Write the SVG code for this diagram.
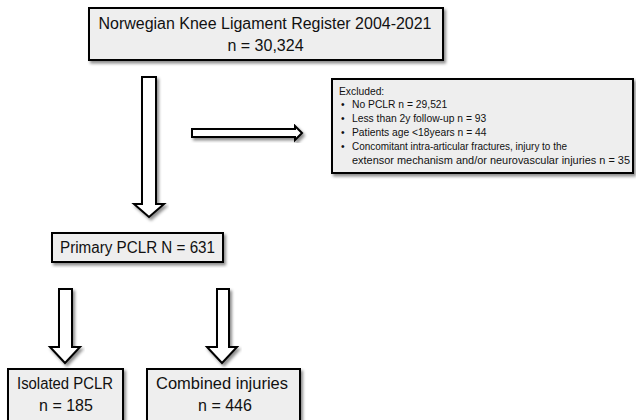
<svg xmlns="http://www.w3.org/2000/svg" width="636" height="420" viewBox="0 0 636 420">
<defs>
<filter id="sh" x="-10%" y="-10%" width="125%" height="130%">
<feDropShadow dx="2" dy="2.5" stdDeviation="1.5" flood-color="#000" flood-opacity="0.45"/>
</filter>
<style>
.box{fill:#eeeeee;stroke:#000;stroke-width:2;filter:url(#sh)}
.arr{fill:#fff;stroke:#000;stroke-width:2;stroke-linejoin:miter;filter:url(#sh)}
.t{font-family:"Liberation Sans",Arial,sans-serif;font-size:16px;fill:#111;text-anchor:middle}
.s{font-family:"Liberation Sans",Arial,sans-serif;font-size:10.3px;fill:#111}
</style>
</defs>
<rect width="636" height="420" fill="#fff"/>
<g id="connectors">
<polygon class="arr" points="142,77 156,77 156,204 164,204 149,217 134,204 142,204"/>
<polygon class="arr" points="192,129 295,129 295,126 302,133 295,140 295,137 192,137"/>
<polygon class="arr" points="59,289 72,289 72,347 80,347 65,363 50,347 59,347"/>
<polygon class="arr" points="217,289 229,289 229,347 237,347 222,363 207,347 217,347"/>
</g>
<g id="register">
<rect class="box" x="89" y="8" width="354" height="52"/>
<text class="t" x="265" y="29" textLength="333" lengthAdjust="spacingAndGlyphs">Norwegian Knee Ligament Register 2004-2021</text>
<text class="t" x="265.5" y="51">n = 30,324</text>
</g>
<g id="excluded">
<rect class="box" x="332" y="79" width="301" height="94"/>
<text class="s" x="339" y="95">Excluded:</text>
<text class="s" x="341" y="108">•</text>
<text class="s" x="352" y="108">No PCLR n = 29,521</text>
<text class="s" x="341" y="122">•</text>
<text class="s" x="352" y="122">Less than 2y follow-up  n = 93</text>
<text class="s" x="341" y="136">•</text>
<text class="s" x="352" y="136">Patients age &lt;18years n =  44</text>
<text class="s" x="341" y="150">•</text>
<text class="s" x="352" y="150" textLength="215" lengthAdjust="spacingAndGlyphs">Concomitant  intra-articular fractures, injury to the</text>
<text class="s" x="352" y="164" textLength="278" lengthAdjust="spacingAndGlyphs">extensor mechanism and/or neurovascular injuries n = 35</text>
</g>
<g id="primary">
<rect class="box" x="52" y="233" width="171" height="29"/>
<text class="t" x="137.5" y="253" textLength="155" lengthAdjust="spacingAndGlyphs">Primary PCLR N = 631</text>
</g>
<g id="isolated">
<rect class="box" x="8" y="369" width="115" height="60"/>
<text class="t" x="65" y="389" textLength="96" lengthAdjust="spacingAndGlyphs">Isolated PCLR</text>
<text class="t" x="66" y="411">n = 185</text>
</g>
<g id="combined">
<rect class="box" x="147" y="369" width="153" height="60"/>
<text class="t" x="222" y="389" textLength="132" lengthAdjust="spacingAndGlyphs">Combined injuries</text>
<text class="t" x="225" y="411">n = 446</text>
</g>
</svg>
